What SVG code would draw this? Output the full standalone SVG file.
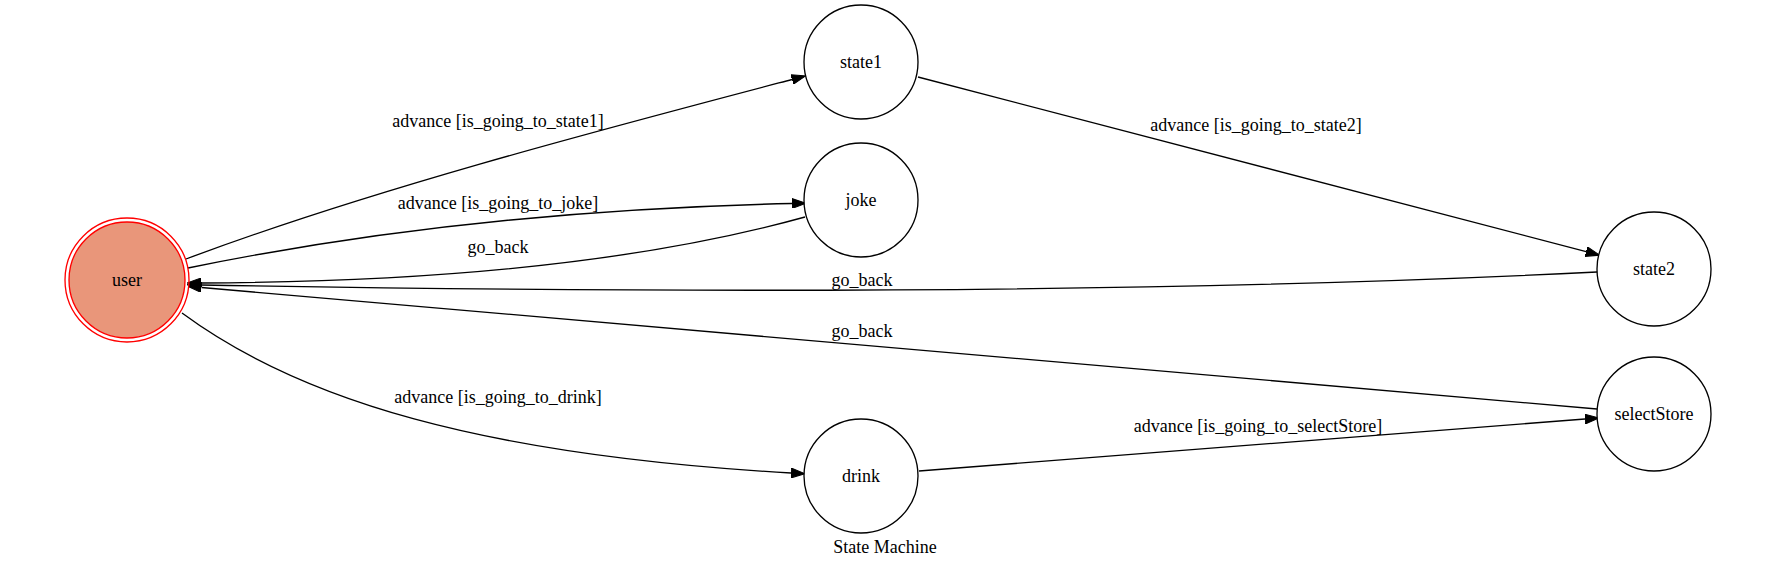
<svg xmlns="http://www.w3.org/2000/svg" width="1771" height="569" viewBox="0 0 1771 569">
<defs>
<style>
.node{fill:#ffffff;stroke:#000000;stroke-width:1.33}
.start{fill:#e9967a;stroke:#ff0000;stroke-width:1.33}
.ring{fill:none;stroke:#ff0000;stroke-width:1.33}
.edge{fill:none;stroke:#000000;stroke-width:1.33;marker-end:url(#arrow)}
text{font-family:"Liberation Serif","Times New Roman",serif;font-size:18px;fill:#000000;text-anchor:middle}
</style>
<marker id="arrow" markerUnits="userSpaceOnUse" markerWidth="14" markerHeight="10" viewBox="0 0 13.3 9.4" refX="0" refY="4.7" orient="auto">
<path d="M0,0 L13.3,4.7 L0,9.4 z" fill="#000000" stroke="#000000" stroke-width="1"/>
</marker>
</defs>
<rect width="1771" height="569" fill="#ffffff"/>
<g id="connectors">
<path class="edge" d="M186,259 C370,190 600,130 792,79.5"/>
<path class="edge" d="M188,268 C300,245 500,210 792,203.5"/>
<path class="edge" d="M805,217 C650,260 450,282 201,283"/>
<path class="edge" d="M918,77 L1586.1,251.6"/>
<path class="edge" d="M1597,272 C1200,292 700,294 201,285"/>
<path class="edge" d="M1597,409 L201.5,287.5"/>
<path class="edge" d="M182,313 C300,400 480,455 791,473"/>
<path class="edge" d="M919,471 L1585,419"/>
<text x="498" y="127">advance [is_going_to_state1]</text>
<text x="498" y="209">advance [is_going_to_joke]</text>
<text x="498" y="253">go_back</text>
<text x="1256" y="131">advance [is_going_to_state2]</text>
<text x="862" y="286">go_back</text>
<text x="862" y="337">go_back</text>
<text x="498" y="403">advance [is_going_to_drink]</text>
<text x="1258" y="432">advance [is_going_to_selectStore]</text>
</g>
<g id="user">
<circle class="ring" cx="127" cy="280" r="62"/>
<circle class="start" cx="127" cy="280" r="58"/>
<text x="127" y="286">user</text>
</g>
<g id="state1">
<circle class="node" cx="861" cy="62" r="57"/>
<text x="861" y="68">state1</text>
</g>
<g id="joke">
<circle class="node" cx="861" cy="200" r="57"/>
<text x="861" y="206">joke</text>
</g>
<g id="state2">
<circle class="node" cx="1654" cy="269" r="57"/>
<text x="1654" y="275">state2</text>
</g>
<g id="selectStore">
<circle class="node" cx="1654" cy="414" r="57"/>
<text x="1654" y="420">selectStore</text>
</g>
<g id="drink">
<circle class="node" cx="861" cy="476" r="57"/>
<text x="861" y="482">drink</text>
</g>
<g id="graph-label">
<text x="885" y="553">State Machine</text>
</g>
</svg>
